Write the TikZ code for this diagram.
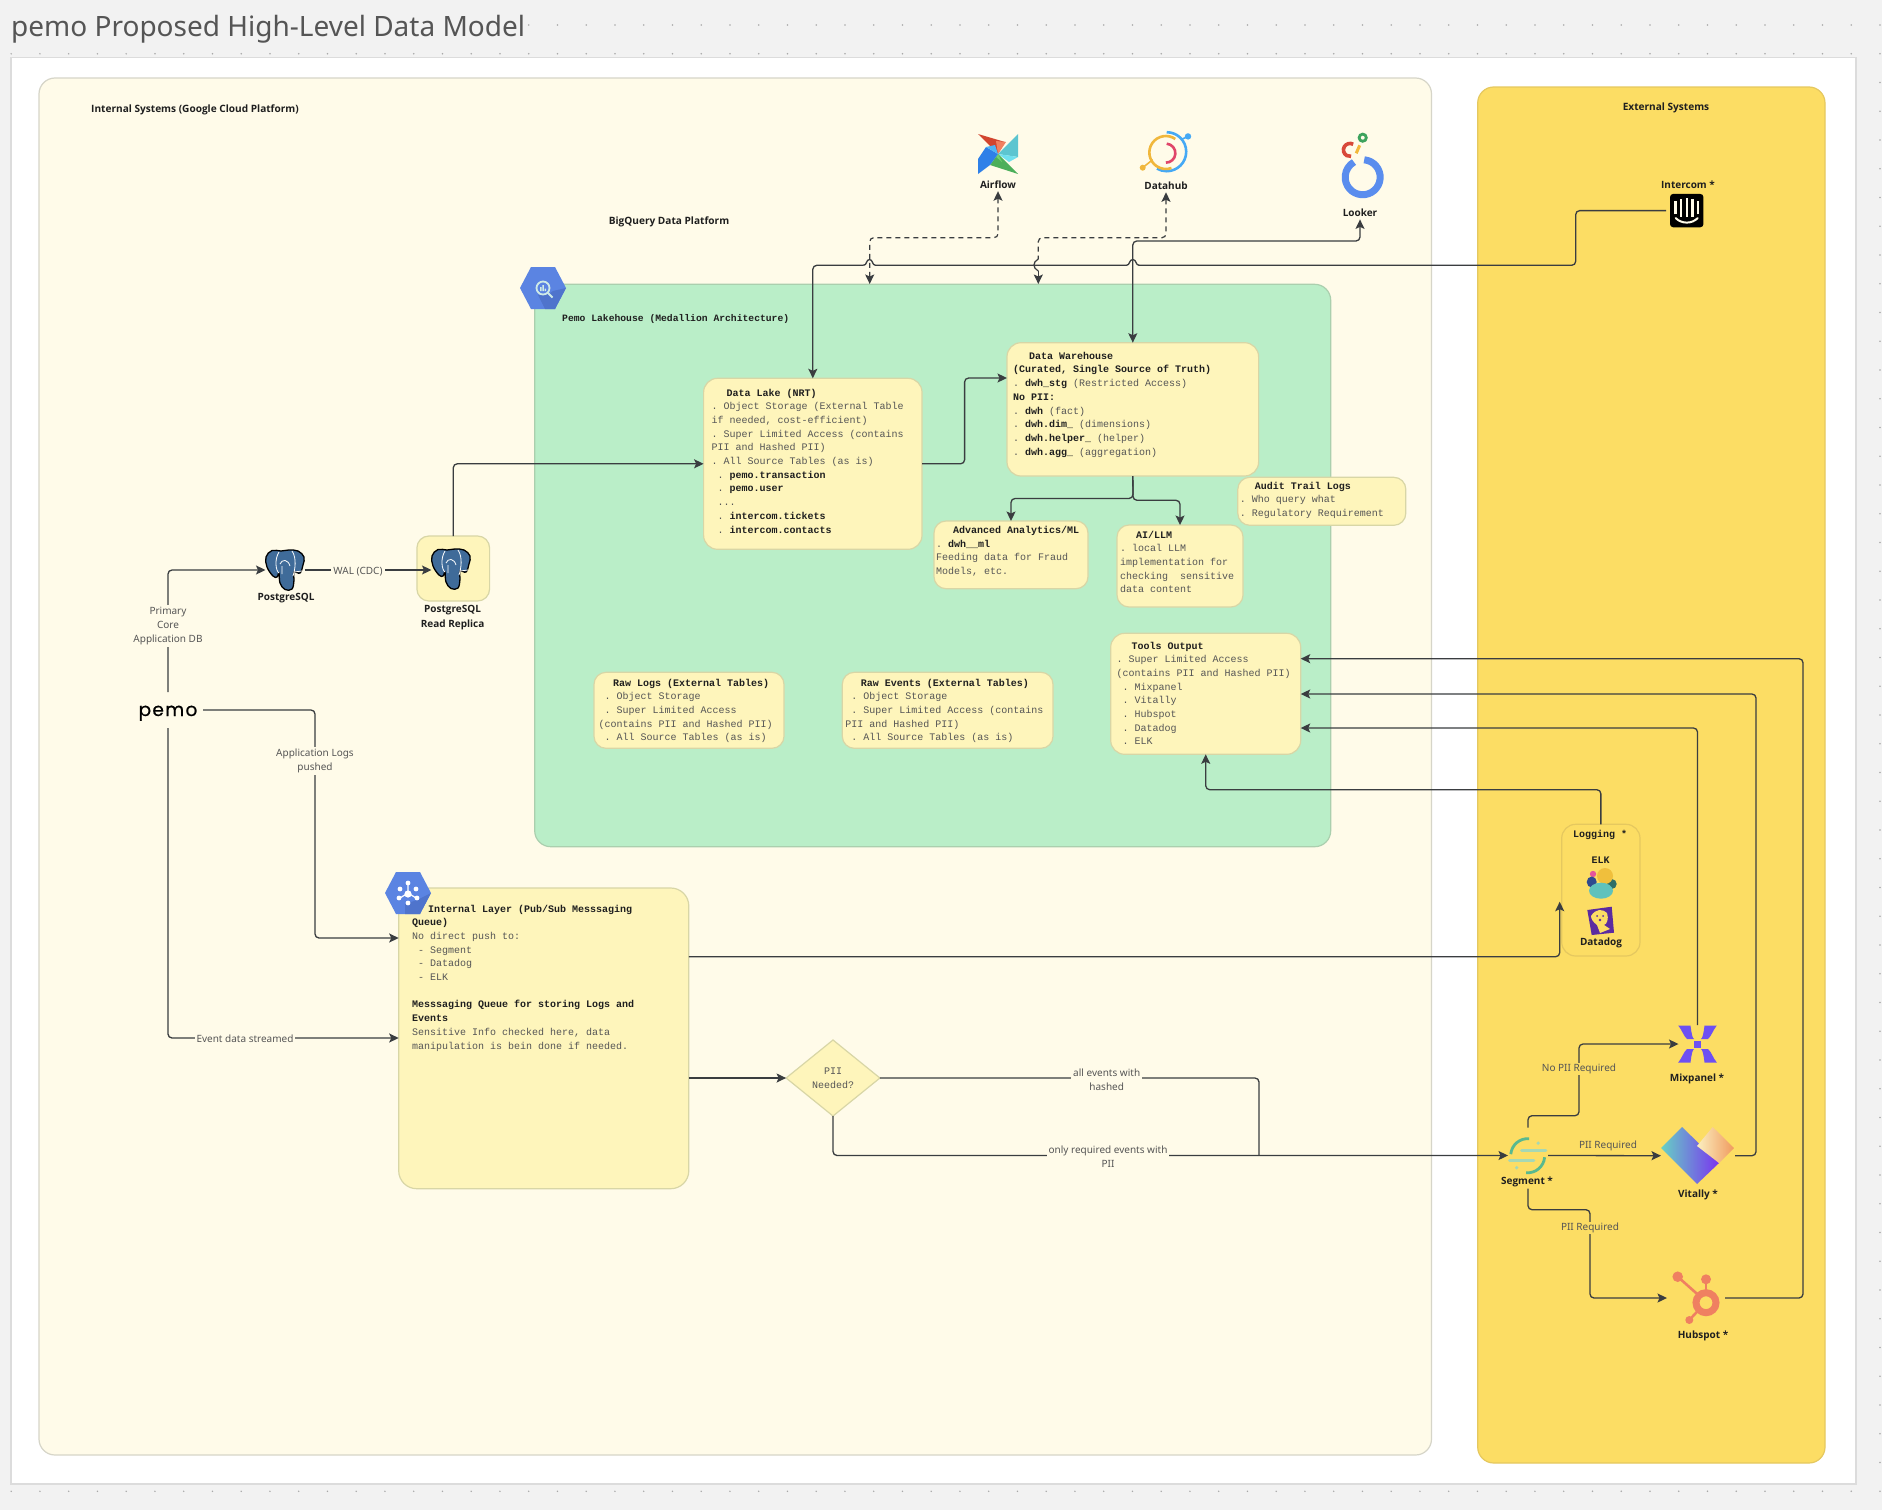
\documentclass[tikz,border=0pt]{standalone}
\usepackage{fontspec}
\setmainfont{Noto Sans}
\newfontfamily\labelfont{Open Sans}
\newfontfamily\monofont{Liberation Mono}
\newfontfamily\pemofont[LetterSpace=7,FakeBold=0.6]{Poppins}
\usetikzlibrary{arrows.meta,shapes.geometric}

\definecolor{pagebg}{HTML}{F2F2F2}
\definecolor{griddot}{HTML}{A9A9A9}
\definecolor{frameline}{HTML}{DCDCDC}
\definecolor{internalbg}{HTML}{FFFBE9}
\definecolor{internalline}{HTML}{D6D5C8}
\definecolor{externalbg}{HTML}{FCDD64}
\definecolor{externalline}{HTML}{E5C85F}
\definecolor{lakebg}{HTML}{BAEEC8}
\definecolor{lakeline}{HTML}{ABCFAE}
\definecolor{boxfill}{HTML}{FEF5BB}
\definecolor{boxline}{HTML}{D8D6A6}
\definecolor{flowline}{HTML}{3A3D40}
\definecolor{softtext}{HTML}{555555}
\definecolor{darktext}{HTML}{1F1F1F}
\definecolor{gcpblue}{HTML}{5B84E2}
\definecolor{gcpshade}{HTML}{4F74CC}
\definecolor{gcpicon}{HTML}{CFEBE6}
\definecolor{pgblue}{HTML}{3F6B99}
\definecolor{hubspot}{HTML}{EF8061}
\definecolor{mixpurple}{HTML}{6E50F2}
\definecolor{segmentgreen}{HTML}{59B98F}
\definecolor{segmentpale}{HTML}{A6D8B4}
\definecolor{afred}{HTML}{D2452F}
\definecolor{afsalmon}{HTML}{F08060}
\definecolor{afteal}{HTML}{5CC5D0}
\definecolor{afcyan}{HTML}{70E0EE}
\definecolor{afgreen}{HTML}{4CAF5A}
\definecolor{aflime}{HTML}{72D06E}
\definecolor{afblue}{HTML}{2F80E8}
\definecolor{afsky}{HTML}{4FB4F5}
\definecolor{dhblue}{HTML}{45A9F5}
\definecolor{dhyellow}{HTML}{F0B73C}
\definecolor{dhred}{HTML}{E0456A}
\definecolor{lkblue}{HTML}{5A8DEE}
\definecolor{lkred}{HTML}{D8493A}
\definecolor{lkgreen}{HTML}{3DA35D}
\definecolor{lkyellow}{HTML}{F2B93B}
\definecolor{elkyellow}{HTML}{F0BF3C}
\definecolor{elkteal}{HTML}{5FC2BC}
\definecolor{elknavy}{HTML}{2F4A8F}
\definecolor{elkpink}{HTML}{E5559A}
\definecolor{elkdark}{HTML}{2F6E66}
\definecolor{elklime}{HTML}{A3C94E}
\definecolor{ddpurple}{HTML}{5B2CA0}
\definecolor{vteal}{HTML}{66D1C4}
\definecolor{vpurple}{HTML}{7A33F0}
\definecolor{vcream}{HTML}{FBEFC0}
\definecolor{vorange}{HTML}{F09A5E}

\newcommand{\ttl}[1]{{\bfseries\color{darktext}#1}}
\newcommand{\monotext}{\monofont\fontsize{10}{13.7}\selectfont\frenchspacing}
\newcommand{\lakefont}{\monofont\bfseries\fontsize{9.7}{12}\selectfont\frenchspacing}

\tikzset{
  notebox/.style={rectangle, draw=boxline, fill=boxfill, line width=1.2pt, rounded corners=14pt,
    anchor=north west, align=flush left, text=softtext, inner ysep=0pt, outer sep=0pt, font=\monotext},
  region/.style={rectangle, line width=1.2pt, rounded corners=16pt, anchor=north west, inner sep=0pt, outer sep=0pt},
  iconspot/.style={inner sep=0pt, outer sep=0pt},
  iconlabel/.style={inner sep=0pt, minimum height=13pt, align=center, text=darktext,
    font=\labelfont\bfseries\fontsize{10}{14.3}\selectfont},
  monolabel/.style={inner sep=0pt, text=darktext, font=\monotext\bfseries},
  sectionlabel/.style={inner sep=0pt, text=darktext, font=\labelfont\bfseries\fontsize{10.1}{12}\selectfont},
  edgelabel/.style={inner sep=2pt, align=center, text=softtext, font=\fontsize{10}{14.3}\selectfont},
  flow/.style={draw=flowline, line width=1.3pt, rounded corners=4pt,
    -{Stealth[length=9.5pt,width=9pt,inset=2pt]}},
  twoflow/.style={flow, {Stealth[length=9.5pt,width=9pt,inset=2pt]}-{Stealth[length=9.5pt,width=9pt,inset=2pt]}},
  plainflow/.style={draw=flowline, line width=1.3pt, rounded corners=4pt},
  dashflow/.style={draw=flowline, line width=1.2pt, rounded corners=4pt, dash pattern=on 5pt off 4pt,
    {Stealth[length=9.5pt,width=9pt,inset=2pt]}-{Stealth[length=9.5pt,width=9pt,inset=2pt]}}
}

\begin{document}
\begin{tikzpicture}[x=1pt,y=-1pt]
  \useasboundingbox (0,0) rectangle (1882,1510);
  \fill[pagebg] (0,0) rectangle (1882,1510);

  % dotted canvas
  \foreach \i in {0,...,65}
    \foreach \j in {0,...,51}
      \fill[griddot] ({11.2+28.75*\i},{25+28.75*\j}) circle[radius=0.8];

  \node (title) [anchor=west, fill=pagebg, inner xsep=1pt, inner ysep=0pt, text=softtext, font=\fontsize{28}{30}\selectfont] at (10,29) {pemo Proposed High-Level Data Model};
  \fill[white, draw=frameline, line width=1.2pt] (11,57.5) rectangle (1856,1484);

  % regions
  \node (internal) [region, draw=internalline, fill=internalbg, minimum width=1392.5pt, minimum height=1377pt] at (39,78) {};
  \node (external) [region, draw=externalline, fill=externalbg, minimum width=347.3pt, minimum height=1376pt] at (1477.7,87) {};
  \node (lakehouse) [region, draw=lakeline, fill=lakebg, minimum width=796pt, minimum height=562.4pt] at (534.7,284.3) {};

  \node (internaltitle) [sectionlabel, anchor=west] at (91,109.5) {Internal Systems (Google Cloud Platform)};
  \node (externaltitle) [sectionlabel] at (1666,107.5) {External Systems};
  \node (bigquerytitle) [sectionlabel] at (669,222) {BigQuery Data Platform};
  \node (lakehousetitle) [anchor=west, inner sep=0pt, align=flush left, text=darktext, font=\lakefont] at (562,319) {Pemo Lakehouse (Medallion Architecture)};

  % notes
  \node (datalake) [notebox, inner xsep=8pt, text width=202.4pt, text height=17.7pt, text depth=153.3pt] at (703.6,378.3) {%
    \hspace*{15pt}\ttl{Data Lake (NRT)}\\
    . Object Storage (External Table\\
    if needed, cost-efficient)\\
    . Super Limited Access (contains\\
    PII and Hashed PII)\\
    . All Source Tables (as is)\\
    ~. \ttl{pemo.transaction}\\
    ~. \ttl{pemo.user}\\
    ~...\\
    ~. \ttl{intercom.tickets}\\
    ~. \ttl{intercom.contacts}};
  \node (warehouse) [notebox, inner xsep=6pt, text width=239.6pt, text height=16.5pt, text depth=116.8pt] at (1007,342.7) {%
    \hspace*{16pt}\ttl{Data Warehouse}\\
    \ttl{(Curated, Single Source of Truth)}\\
    . \ttl{dwh\_stg} (Restricted Access)\\
    \ttl{No PII:}\\
    . \ttl{dwh} (fact)\\
    . \ttl{dwh.dim\_} (dimensions)\\
    . \ttl{dwh.helper\_} (helper)\\
    . \ttl{dwh.agg\_} (aggregation)};
  \node (audit) [notebox, rounded corners=12pt, inner xsep=2pt, text width=164pt, text height=11.7pt, text depth=36.3pt] at (1237.8,477.3) {%
    \hspace*{15pt}\ttl{Audit Trail Logs}\\
    . Who query what\\
    . Regulatory Requirement};
  \node (analytics) [notebox, rounded corners=12pt, inner xsep=2pt, text width=150pt, text height=12.5pt, text depth=55.2pt] at (934,521) {%
    \hspace*{17pt}\ttl{Advanced Analytics/ML}\\
    . \ttl{dwh\_\_ml}\\
    Feeding data for Fraud\\
    Models, etc.};
  \node (aillm) [notebox, rounded corners=12pt, inner xsep=3pt, text width=120pt, text height=13pt, text depth=69pt] at (1117,525) {%
    \hspace*{16pt}\ttl{AI/LLM}\\
    . local LLM\\
    implementation for\\
    checking\ \ sensitive\\
    data content};
  \node (rawlogs) [notebox, rounded corners=12pt, inner xsep=4.5pt, text width=181pt, text height=13.7pt, text depth=62.3pt] at (594,672.3) {%
    \hspace*{14.7pt}\ttl{Raw Logs (External Tables)}\\
    ~. Object Storage\\
    ~. Super Limited Access\\
    (contains PII and Hashed PII)\\
    ~. All Source Tables (as is)};
  \node (rawevents) [notebox, rounded corners=12pt, inner xsep=3pt, text width=204.7pt, text height=13.7pt, text depth=62.3pt] at (842.3,672.3) {%
    \hspace*{15.6pt}\ttl{Raw Events (External Tables)}\\
    ~. Object Storage\\
    ~. Super Limited Access (contains\\
    PII and Hashed PII)\\
    ~. All Source Tables (as is)};
  \node (toolsoutput) [notebox, inner xsep=6pt, text width=178pt, text height=15.7pt, text depth=105.3pt] at (1110.7,633.3) {%
    \hspace*{15pt}\ttl{Tools Output}\\
    . Super Limited Access\\
    (contains PII and Hashed PII)\\
    ~. Mixpanel\\
    ~. Vitally\\
    ~. Hubspot\\
    ~. Datadog\\
    ~. ELK};
  \node (queue) [notebox, rounded corners=18pt, inner xsep=13.4pt, text width=263.3pt, text height=24pt, text depth=276.7pt] at (398.7,888) {%
    \hspace*{16pt}\ttl{Internal Layer (Pub/Sub Messsaging}\\
    \ttl{Queue)}\\
    No direct push to:\\
    ~- Segment\\
    ~- Datadog\\
    ~- ELK\\
    ~\\
    \ttl{Messsaging Queue for storing Logs and}\\
    \ttl{Events}\\
    Sensitive Info checked here, data\\
    manipulation is bein done if needed.};
  \node (replica) [notebox, minimum width=72.7pt, minimum height=65pt, inner sep=0pt, rounded corners=12pt] at (416.9,536) {};
  \node (logging) [region, rounded corners=14pt, draw=externalline, fill=externalbg, minimum width=78.3pt, minimum height=131.7pt] at (1561.7,824.3) {};
  \node (piineeded) [diamond, draw=boxline, fill=boxfill, line width=1.2pt, inner sep=0pt, outer sep=0pt, minimum width=93.8pt, minimum height=76pt, align=center, text=softtext, font=\monotext] at (833,1078) {PII\\Needed?};

  \node (pemo) [inner sep=0pt, outer sep=0pt, minimum width=70pt, minimum height=36pt, text height=13pt, text depth=1pt, text=black, font=\pemofont\fontsize{18.5}{22}\selectfont] at (168,710) {pemo};

  % icon spots
  \node (pgmain) [iconspot, minimum width=39pt, minimum height=39pt] at (285,570) {};
  \node (pgreplica) [iconspot, minimum width=39pt, minimum height=39pt] at (451,569) {};
  \node (airflow) [iconspot, minimum size=40pt] at (998,154) {};
  \node (datahub) [iconspot, minimum size=40pt] at (1166.7,151.7) {};
  \node (looker) [iconspot, minimum width=42pt, minimum height=60pt] at (1362.7,160) {};
  \node (intercom) [iconspot, fill=black, rounded corners=3pt, minimum size=33.3pt] at (1686.7,210.6) {};
  \node (segment) [iconspot, minimum width=40pt, minimum height=56pt] at (1528,1155.5) {};
  \node (mixpanel) [iconspot, minimum size=38pt] at (1697.5,1044) {};
  \node (vitally) [iconspot, minimum width=74pt, minimum height=57pt] at (1698,1155.7) {};
  \node (hubspot) [iconspot, minimum width=58pt, minimum height=50pt] at (1696,1298) {};

  % icon labels
  \node (pgmainlabel) [iconlabel] at (286,598) {PostgreSQL};
  \node (pgreplicalabel) [iconlabel] at (452.6,617.5) {PostgreSQL\\Read Replica};
  \node (airflowlabel) [iconlabel] at (998,184.5) {Airflow};
  \node (datahublabel) [iconlabel] at (1166,185.6) {Datahub};
  \node (lookerlabel) [iconlabel] at (1360,212.7) {Looker};
  \node (intercomlabel) [iconlabel] at (1688,184.5) {Intercom *};
  \node (segmentlabel) [iconlabel] at (1527,1182) {Segment *};
  \node (mixpanellabel) [iconlabel] at (1697,1079) {Mixpanel *};
  \node (vitallylabel) [iconlabel] at (1698,1194.5) {Vitally *};
  \node (hubspotlabel) [iconlabel] at (1703,1336) {Hubspot *};
  \node (logginglabel) [monolabel] at (1600,835) {Logging *};
  \node (elklabel) [monolabel] at (1600.7,860.5) {ELK};
  \node (datadoglabel) [iconlabel] at (1601,943) {Datadog};

  % hexagons
  \begin{scope}[shift={(543,288)},y=1pt]
    \fill[gcpblue] (-23,0) -- (-12,21) -- (12,21) -- (23,0) -- (12,-21) -- (-12,-21) -- cycle;
    \fill[gcpshade] (6,-6) -- (10,-3) -- (23,0) -- (12,-21) -- (2,-21) -- (-5,-7) -- cycle;
    \draw[gcpicon, line width=1.8pt] (0,0) circle[radius=6.5];
    \draw[gcpicon, line width=1.8pt] (4.6,-4.6) -- (9.5,-9.5);
    \fill[gcpicon] (-3,-3) rectangle (-1.5,1) (-.7,-3) rectangle (.8,3) (1.6,-3) rectangle (3.1,-.5);
  \end{scope}
  \begin{scope}[shift={(408,893)},y=1pt]
    \fill[gcpblue] (-23,0) -- (-12,21) -- (12,21) -- (23,0) -- (12,-21) -- (-12,-21) -- cycle;
    \fill[gcpshade] (9,-7) -- (23,0) -- (12,-21) -- (-3,-21) -- (-3,-11) -- cycle;
    \draw[white, line width=1.2pt] (0,0) -- (0,9) (0,0) -- (-8,-5) (0,0) -- (8,-5);
    \foreach \p in {(0,-1),(0,10),(-8,4),(8,4),(-9,-5),(9,-5),(0,-10)}
      \fill[white] \p circle[radius=2.4];
    \fill[white] (0,-1) circle[radius=3.6];
  \end{scope}

  % elephants
  \foreach \spot in {pgmain,pgreplica} {
    \begin{scope}[shift={(\spot.center)},y=1pt]
      \draw[draw=black, fill=pgblue, line width=1.3pt] plot[smooth cycle, tension=.65] coordinates {(-4,19) (-13,19.5) (-19,13) (-18,3) (-12,-6) (-8,-7) (-6,-3) (-5,-13) (0,-19.5) (7,-19) (9,-10) (9,-2) (15,-3) (18,5) (19,13) (13,19) (4,20)};
      \draw[white, line width=.8pt] (-6,18) .. controls (-11,10) and (-9,-1) .. (-6,-3);
      \draw[white, line width=.8pt] (7,19) .. controls (12,12) and (10,0) .. (8,-6);
      \draw[white, line width=.8pt] (-5,6) .. controls (-3,11) and (3,11) .. (5,4) (-3,-4) -- (-3,4);
      \draw[white, line width=.8pt] (9,-2) -- (17,-1);
    \end{scope}
  }

  % airflow
  \begin{scope}[shift={(airflow.center)},y=1pt]
    \fill[afred] (-20,20) -- (7,12) -- (0,0) -- cycle;
    \fill[afsalmon] (-2,13) -- (8,12) -- (0,0) -- cycle;
    \fill[afteal] (20,20) -- (20,-3) -- (0,0) -- cycle;
    \fill[afcyan] (20,-3) -- (11,-8) -- (0,0) -- cycle;
    \fill[afgreen] (20,-20) -- (-8,-11) -- (0,0) -- cycle;
    \fill[aflime] (-8,-11) -- (-3,-2) -- (4,-8) -- (0,0) -- cycle;
    \fill[afblue] (-20,-20) -- (-20,-5) -- (-12,7) -- (0,0) -- (-8,-11) -- cycle;
    \fill[afsky] (-12,7) -- (0,0) -- (-3,9) -- cycle;
  \end{scope}

  % datahub
  \begin{scope}[shift={(datahub.center)},y=1pt]
    \draw[dhblue, line width=2.6pt] (0,19.5) arc[start angle=90, end angle=-120, radius=19.5];
    \draw[dhblue, line width=1.6pt] (15,12.5) -- (21,15);
    \fill[dhblue] (21.3,15.3) circle[radius=3.2];
    \draw[dhyellow, line width=2.6pt] (8.6,12.7) arc[start angle=55, end angle=290, radius=16.5];
    \draw[dhyellow, line width=1.6pt] (-14,-8) -- (-24,-16);
    \fill[dhyellow] (-24,-16) circle[radius=3];
    \draw[dhred, line width=2.6pt] (0,8) arc[start angle=85, end angle=-90, radius=9.5];
  \end{scope}

  % looker
  \begin{scope}[shift={(1362.7,177.3)},y=1pt]
    \draw[lkblue, line width=7pt] (1.5,17.5) arc[start angle=85, end angle=-240, radius=17.5];
    \draw[lkred, line width=3.6pt] (-9.5,33) arc[start angle=60, end angle=280, radius=6.5];
    \draw[lkgreen, line width=2.8pt] (0,39.6) circle[radius=3.6];
    \draw[lkyellow, line width=3pt] (-3,32) -- (-6.5,24);
  \end{scope}

  % intercom
  \begin{scope}[shift={(intercom.center)},y=1pt]
    \foreach \x/\h/\d in {-11.3/9.7/-3.7,-5.7/12/-6,0/12.5/-6.5,5.7/12/-6,11.3/9.7/-3.7}
      \draw[internalbg, line width=2.2pt] (\x,\d) -- (\x,\h);
    \draw[internalbg, line width=2pt, line cap=round] (-11,-7.5) .. controls (-5,-13.5) and (5,-13.5) .. (11,-7.5);
  \end{scope}

  % elk and datadog
  \begin{scope}[shift={(1601,883.3)},y=1pt]
    \fill[elkpink] (-8,9.3) circle[radius=3.2];
    \fill[elknavy] (-9.3,1.3) ellipse[x radius=5, y radius=5.5];
    \fill[elkdark] (10.7,-.7) circle[radius=5];
    \fill[elklime] (8,-8.7) circle[radius=3.3];
    \fill[elkyellow] (4,7.3) circle[radius=8];
    \fill[elkteal] (0,-7.4) ellipse[x radius=12, y radius=8];
  \end{scope}
  \fill[ddpurple] (1587.3,910) -- (1611.7,906.7) -- (1614,932.7) -- (1591.7,935) -- cycle;
  \fill[externalbg] (1591,916) .. controls (1596,908) and (1603,909) .. (1607,913) .. controls (1609,919) and (1607,924) .. (1604,925) -- (1610,929) -- (1600,933) -- (1597,925) .. controls (1593,922) and (1591,919) .. (1591,916) -- cycle;
  \fill[ddpurple] (1597,916) circle[radius=1] (1603,916) circle[radius=1] (1600,920) circle[radius=1.4];

  % segment
  \begin{scope}[shift={(1527.7,1155.7)},y=1pt]
    \draw[segmentgreen, line width=2.8pt] (1.5,17) arc[start angle=85, end angle=175, radius=17];
    \draw[segmentgreen, line width=2.8pt] (-1.5,-17) arc[start angle=265, end angle=355, radius=17];
    \draw[segmentpale, line width=3.4pt, line cap=round] (-6,5) -- (18,5);
    \draw[segmentpale, line width=3.4pt, line cap=round] (-18,-5) -- (6,-5);
    \fill[segmentpale] (10.5,12.5) circle[radius=1.8] (-11,-12) circle[radius=1.8];
  \end{scope}

  % mixpanel
  \begin{scope}[shift={(mixpanel.center)},y=1pt]
    \fill[mixpurple] (-3.5,-3.5) rectangle (3.5,3.5);
    \foreach \sx/\sy in {1/1,-1/1,1/-1,-1/-1}
      \fill[mixpurple, xscale=\sx, yscale=\sy] (19.3,18.5) -- (7,18.5) .. controls (6,10) and (5,6) .. (3.5,5) -- (10.5,5) .. controls (14,8) and (15.5,14) .. cycle;
  \end{scope}

  % vitally
  \shade[left color=vteal, right color=vpurple]
    (1661,1148) -- (1682,1127) -- (1719,1163) -- (1697,1184) -- cycle;
  \shade[left color=vcream, right color=vorange]
    (1697,1146) -- (1712.7,1127) -- (1734,1148) -- (1719,1163) -- cycle;

  % hubspot
  \begin{scope}[shift={(1706,1302.7)},y=1pt]
    \draw[hubspot, line width=7pt] (0,0) circle[radius=10];
    \draw[hubspot, line width=2.6pt] (0,10) -- (0,23.4);
    \draw[hubspot, line width=2.6pt] (-8,8) -- (-28.3,26);
    \draw[hubspot, line width=2.6pt] (-8,-8) -- (-16.7,-17.3);
    \fill[hubspot] (0,23.4) circle[radius=5] (-28.3,26) circle[radius=5.3] (-16.7,-17.3) circle[radius=4];
  \end{scope}

  % connector ends that do not sit on an anchor
  \coordinate (warehousein) at (1007,378);
  \coordinate (queuelogs) at (398.7,938);
  \coordinate (queueevents) at (398.7,1038);
  \coordinate (queuetop) at (688.8,956.7);
  \coordinate (queuepii) at (688.8,1078);
  \coordinate (loggingin) at (1559.7,901.7);
  \coordinate (toolsA) at (1300.7,658.7);
  \coordinate (toolsB) at (1300.7,694);
  \coordinate (toolsC) at (1300.7,728);
  \coordinate (lakeairflow) at (869.7,284);
  \coordinate (lakedatahub) at (1038.3,284);

  % pemo to the database and the queue
  \draw[flow] (pemo.north) |- (pgmain.west);
  \draw[flow] (pgmain.east) -- (pgreplica.west |- pgmain.east);
  \draw[flow] (replica.north) |- (datalake.west);
  \draw[flow] (pemo.east) -- (315,710) |- (queuelogs);
  \draw[flow] (pemo.south) |- (queueevents);

  % inside the lakehouse
  \draw[flow] (datalake.east) -- (964.6,463.8) |- (warehousein);
  \draw[flow] (warehouse.south) -- (1133,498.5) -| (analytics.north);
  \draw[flow] (warehouse.south) -- (1133,500.3) -| (aillm.north);

  % intercom to the lake, jumps over two lines
  \draw[plainflow] ([xshift=-4pt]intercom.west) -- (1575.7,210.6) -- (1575.7,265.3) -- (1139,265.3);
  \draw[draw=flowline, line width=1.3pt] (1139,265.3) .. controls (1135.5,265.3) and (1136.5,259.5) .. (1132.8,259.5) .. controls (1129,259.5) and (1130,265.3) .. (1126.5,265.3) -- (875.5,265.3) .. controls (872,265.3) and (873,259.5) .. (869.5,259.5) .. controls (866,259.5) and (867,265.3) .. (863.5,265.3);
  \draw[flow] (863.5,265.3) -- (812.8,265.3) -- (datalake.north);
  \draw[twoflow] (warehouse.north) |- (1360,241) -- (lookerlabel.south);

  % tools, both ways
  \draw[dashflow] (airflowlabel.south) -- (998,237.7) -| (lakeairflow);
  \draw[draw=flowline, line width=1.2pt, rounded corners=4pt, dash pattern=on 5pt off 4pt, {Stealth[length=9.5pt,width=9pt,inset=2pt]}-] (datahublabel.south) -- (1166,237.7) -- (1038.3,237.7) -- (1038.3,259);
  \draw[draw=flowline, line width=1.2pt] (1038.3,259) .. controls (1032.5,262) and (1032.5,268) .. (1038.3,271);
  \draw[draw=flowline, line width=1.2pt, -{Stealth[length=9.5pt,width=9pt,inset=2pt]}] (1038.3,271) -- (lakedatahub);

  % queue out
  \draw[flow] (queuetop) -| (loggingin);
  \draw[flow] (queuepii) -- (piineeded.west);
  \draw[plainflow] (piineeded.east) -| (1259,1155.5);
  \draw[flow] (piineeded.south) |- (segment.west);

  % segment to the product tools
  \draw[flow] (segment.north) -- (1528,1115.7) -- (1579,1115.7) |- (mixpanel.west);
  \draw[flow] (segment.east) -- (vitally.west);
  \draw[flow] (segment |- segmentlabel.south) -- (1528,1209.7) -- (1590,1209.7) |- (hubspot.west);

  % back to tools output
  \draw[flow] (mixpanel.north) |- (toolsC);
  \draw[flow] (vitally.east) -- (1756,1155.7) |- (toolsB);
  \draw[flow] (hubspot.east) -- (1803,1298) |- (toolsA);
  \draw[flow] (logging.north) |- (1205.7,789.7) -- (toolsoutput.south);

  % connector labels
  \node (labelprimary) [edgelabel, fill=internalbg] at (168,626.2) {Primary\\Core\\Application DB};
  \node (labelwal) [edgelabel, fill=internalbg] at (358,571.2) {WAL (CDC)};
  \node (labellogs) [edgelabel, fill=internalbg] at (315,761.2) {Application Logs\\pushed};
  \node (labelevents) [edgelabel, fill=internalbg] at (245,1039) {Event data streamed};
  \node (labelhashed) [edgelabel, fill=internalbg] at (1106.7,1079.5) {all events with\\hashed};
  \node (labelrequired) [edgelabel, fill=internalbg] at (1108,1157) {only required events with\\PII};
  \node (labelnopii) [edgelabel, fill=externalbg, inner sep=1pt] at (1579,1068.7) {No PII Required};
  \node (labelvitally) [edgelabel, inner sep=0pt] at (1608,1146) {PII Required};
  \node (labelhubspot) [edgelabel, fill=externalbg, inner sep=1pt] at (1590,1227.7) {PII Required};
\end{tikzpicture}
\end{document}
